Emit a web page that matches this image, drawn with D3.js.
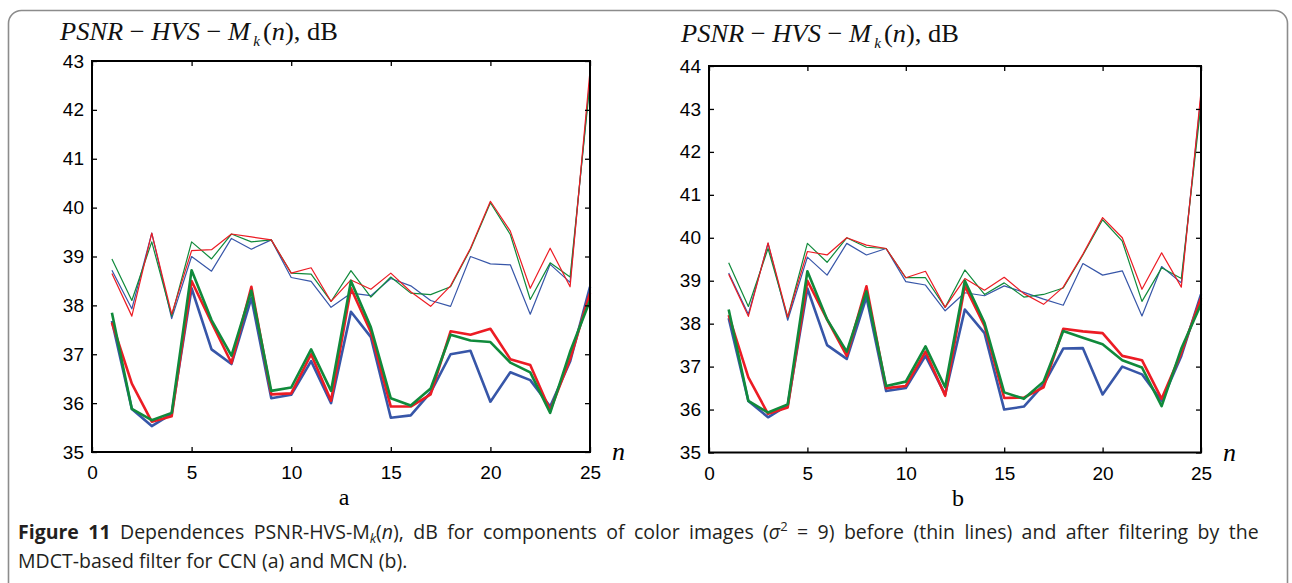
<!DOCTYPE html>
<html>
<head>
<meta charset="utf-8">
<script src="https://cdn.jsdelivr.net/npm/d3@7"></script>
<style>
  body { margin: 0; background: #fff; }
  svg { display: block; }
</style>
</head>
<body>
<svg></svg>
<script>
// x values: image index n
const nValues = d3.range(1, 26);

// ---- panel a (CCN) ----
const aThinRed   = [38.65,37.78,39.48,37.82,39.12,39.14,39.46,39.40,39.34,38.66,38.77,38.08,38.52,38.33,38.66,38.28,37.98,38.40,39.17,40.13,39.52,38.35,39.17,38.38,42.80];
const aThinGreen = [38.95,38.10,39.30,37.78,39.30,38.95,39.46,39.30,39.34,38.66,38.64,38.08,38.71,38.17,38.58,38.25,38.22,38.38,39.15,40.10,39.45,38.12,38.87,38.58,42.55];
const aThinBlue  = [38.72,37.93,39.48,37.73,39.00,38.70,39.37,39.15,39.34,38.57,38.49,37.96,38.25,38.20,38.55,38.40,38.10,37.98,39.00,38.85,38.83,37.82,38.84,38.47,42.65];
const aThickRed   = [37.65,36.40,35.62,35.73,38.50,37.65,36.82,38.38,36.18,36.20,37.00,36.05,38.35,37.45,35.93,35.93,36.18,37.47,37.40,37.52,36.90,36.78,35.85,36.90,38.25];
const aThickGreen = [37.85,35.88,35.65,35.80,38.72,37.70,36.97,38.30,36.25,36.32,37.10,36.25,38.50,37.55,36.10,35.95,36.30,37.40,37.28,37.25,36.83,36.63,35.80,37.05,38.10];
const aThickBlue  = [37.68,35.88,35.53,35.78,38.35,37.10,36.80,38.15,36.10,36.17,36.86,36.00,37.87,37.35,35.70,35.75,36.22,37.00,37.07,36.03,36.63,36.47,35.93,36.85,38.38];

// ---- panel b (MCN) ----
const bThinRed   = [39.15,38.17,39.88,38.15,39.68,39.60,40.00,39.83,39.75,39.07,39.22,38.38,39.05,38.78,39.08,38.70,38.45,38.85,39.62,40.47,40.00,38.80,39.65,38.85,43.40];
const bThinGreen = [39.42,38.40,39.75,38.15,39.87,39.43,40.00,39.78,39.75,39.07,39.07,38.38,39.25,38.68,38.95,38.62,38.68,38.83,39.60,40.42,39.92,38.52,39.30,39.05,43.10];
const bThinBlue  = [39.18,38.22,39.87,38.08,39.55,39.13,39.87,39.60,39.75,38.98,38.90,38.30,38.72,38.65,38.88,38.73,38.57,38.43,39.40,39.13,39.23,38.18,39.33,38.95,43.30];
const bThickRed   = [38.20,36.75,35.90,36.05,39.00,38.10,37.25,38.87,36.50,36.55,37.35,36.32,38.88,37.95,36.27,36.28,36.52,37.88,37.82,37.78,37.25,37.15,36.25,37.32,38.60];
const bThickGreen = [38.33,36.20,35.93,36.12,39.22,38.10,37.35,38.75,36.55,36.65,37.47,36.52,39.00,38.02,36.40,36.25,36.65,37.83,37.67,37.52,37.15,36.98,36.08,37.42,38.45];
const bThickBlue  = [38.13,36.20,35.82,36.10,38.82,37.50,37.18,38.62,36.43,36.50,37.25,36.35,38.33,37.78,36.00,36.07,36.58,37.42,37.43,36.35,37.00,36.82,36.20,37.25,38.68];

const xTicks = [0, 5, 10, 15, 20, 25];
const aYTicks = [35, 36, 37, 38, 39, 40, 41, 42, 43];
const bYTicks = [35, 36, 37, 38, 39, 40, 41, 42, 43, 44];

const colors = {red: '#ec1c24', green: '#108a3b', blue: '#3756a8'};

const size = {w: 1292, h: 583};
const svg = d3.select('svg').attr('width', size.w).attr('height', size.h);

// frame around the figure
svg.append('rect')
    .attr('x', 8.5).attr('y', 10.5)
    .attr('width', 1279).attr('height', 640)
    .attr('rx', 13)
    .attr('fill', 'none')
    .attr('stroke', '#8c8c8c')
    .attr('stroke-width', 1.6);

const panels = [
    {box: {l: 92, r: 590, t: 61, b: 452}, yDomain: [35, 43], yTicks: aYTicks, letter: 'a', titleX: 60, titleY: 40,
     thin: [aThinBlue, aThinGreen, aThinRed], thick: [aThickBlue, aThickRed, aThickGreen]},
    {box: {l: 709, r: 1201, t: 66, b: 452.5}, yDomain: [35, 44], yTicks: bYTicks, letter: 'b', titleX: 681, titleY: 42,
     thin: [bThinBlue, bThinGreen, bThinRed], thick: [bThickBlue, bThickRed, bThickGreen]}
];
const thinColors = [colors.blue, colors.green, colors.red];
const thickColors = [colors.blue, colors.red, colors.green];

panels.forEach(drawPanel);

function drawPanel(p) {
    const g = svg.append('g');
    const x = d3.scaleLinear().domain([0, 25]).range([p.box.l, p.box.r]);
    const y = d3.scaleLinear().domain(p.yDomain).range([p.box.b, p.box.t]);

    const line = d3.line()
        .x((d, i) => x(nValues[i]))
        .y(d => y(d));

    // thin lines: before filtering
    g.selectAll('path.thin')
        .data(p.thin)
        .join('path')
        .attr('class', 'thin')
        .attr('d', line)
        .attr('fill', 'none')
        .attr('stroke', (d, i) => thinColors[i])
        .attr('stroke-width', 1.2)
        .attr('stroke-linejoin', 'round');

    // thick lines: after filtering
    g.selectAll('path.thick')
        .data(p.thick)
        .join('path')
        .attr('class', 'thick')
        .attr('d', line)
        .attr('fill', 'none')
        .attr('stroke', (d, i) => thickColors[i])
        .attr('stroke-width', 2.6)
        .attr('stroke-linejoin', 'round');

    // axes with inward ticks on all four sides
    const tickFont = g => g.selectAll('text')
        .attr('font-family', '"Liberation Sans", Arial, sans-serif')
        .attr('font-size', 19)
        .attr('fill', '#000');
    const axisStyle = g => {
        g.select('.domain').remove();
        g.selectAll('line').attr('stroke', '#000').attr('stroke-width', 1.3);
    };

    g.append('g')
        .attr('transform', `translate(0,${p.box.b})`)
        .call(d3.axisBottom(x).tickValues(xTicks).tickSize(-5).tickPadding(14))
        .call(axisStyle).call(tickFont);
    g.append('g')
        .attr('transform', `translate(0,${p.box.t})`)
        .call(d3.axisTop(x).tickValues(xTicks).tickSize(-5).tickFormat(''))
        .call(axisStyle);
    g.append('g')
        .attr('transform', `translate(${p.box.l},0)`)
        .call(d3.axisLeft(y).tickValues(p.yTicks).tickSize(-5).tickPadding(8))
        .call(axisStyle).call(tickFont);
    g.append('g')
        .attr('transform', `translate(${p.box.r},0)`)
        .call(d3.axisRight(y).tickValues(p.yTicks).tickSize(-5).tickFormat(''))
        .call(axisStyle);

    g.append('rect')
        .attr('x', p.box.l).attr('y', p.box.t)
        .attr('width', p.box.r - p.box.l).attr('height', p.box.b - p.box.t)
        .attr('fill', 'none').attr('stroke', '#000').attr('stroke-width', 2);

    // y title, stretched a little to the source's wide setting
    const title = g.append('text')
        .attr('x', p.titleX).attr('y', p.titleY)
        .attr('font-family', '"Liberation Serif", "Times New Roman", serif')
        .attr('font-size', 26)
        .attr('fill', '#111');
    title.append('tspan').attr('font-style', 'italic').text('PSNR');
    title.append('tspan').text(' \u2212 ');
    title.append('tspan').attr('font-style', 'italic').text('HVS');
    title.append('tspan').text(' \u2212 ');
    title.append('tspan').attr('font-style', 'italic').text('M');
    title.append('tspan').attr('font-style', 'italic').attr('font-size', 15).attr('dy', 6).attr('dx', 3).text('k');
    title.append('tspan').attr('dy', -6).attr('dx', 3).text('(');
    title.append('tspan').attr('font-style', 'italic').text('n');
    title.append('tspan').text('), dB');
    title.attr('textLength', 278).attr('lengthAdjust', 'spacingAndGlyphs');

    // x title
    g.append('text')
        .attr('x', p.box.r + 22).attr('y', p.box.b + 8)
        .attr('font-family', '"Liberation Serif", "Times New Roman", serif')
        .attr('font-style', 'italic')
        .attr('font-size', 26)
        .text('n');

    // panel letter
    g.append('text')
        .attr('x', (p.box.l + p.box.r) / 2 + 3).attr('y', p.box.b + 53)
        .attr('text-anchor', 'middle')
        .attr('font-family', '"Liberation Serif", "Times New Roman", serif')
        .attr('font-size', 24)
        .text(p.letter);
}

// ---- caption ----
const capFont = '"Open Sans", "Noto Sans", sans-serif';
const capSize = 19.5;
const cap1 = svg.append('text')
    .attr('x', 18).attr('y', 539)
    .attr('font-family', capFont).attr('font-size', capSize).attr('fill', '#231f20');
cap1.append('tspan').attr('font-weight', 'bold').text('Figure 11');
cap1.append('tspan').text(' Dependences PSNR-HVS-M');
cap1.append('tspan').attr('font-style', 'italic').attr('font-size', 13).attr('dy', 4).text('k');
cap1.append('tspan').attr('dy', -4).text('(');
cap1.append('tspan').attr('font-style', 'italic').text('n');
cap1.append('tspan').text('), dB for components of color images (');
cap1.append('tspan').attr('font-style', 'italic').text('\u03c3');
cap1.append('tspan').attr('font-size', 13).attr('dy', -8).text('2');
cap1.append('tspan').attr('dy', 8).text(' = 9) before (thin lines) and after filtering by the');

// justify the first line like the source layout
const natural = cap1.node().getComputedTextLength();
const spaces = 24;
const target = 1276 - 18;
if (natural < target) {
    cap1.attr('word-spacing', (target - natural) / spaces);
} else {
    cap1.attr('textLength', target).attr('lengthAdjust', 'spacingAndGlyphs');
}

svg.append('text')
    .attr('x', 18).attr('y', 568)
    .attr('font-family', capFont).attr('font-size', capSize).attr('fill', '#231f20')
    .text('MDCT-based filter for CCN (a) and MCN (b).');
</script>
</body>
</html>
